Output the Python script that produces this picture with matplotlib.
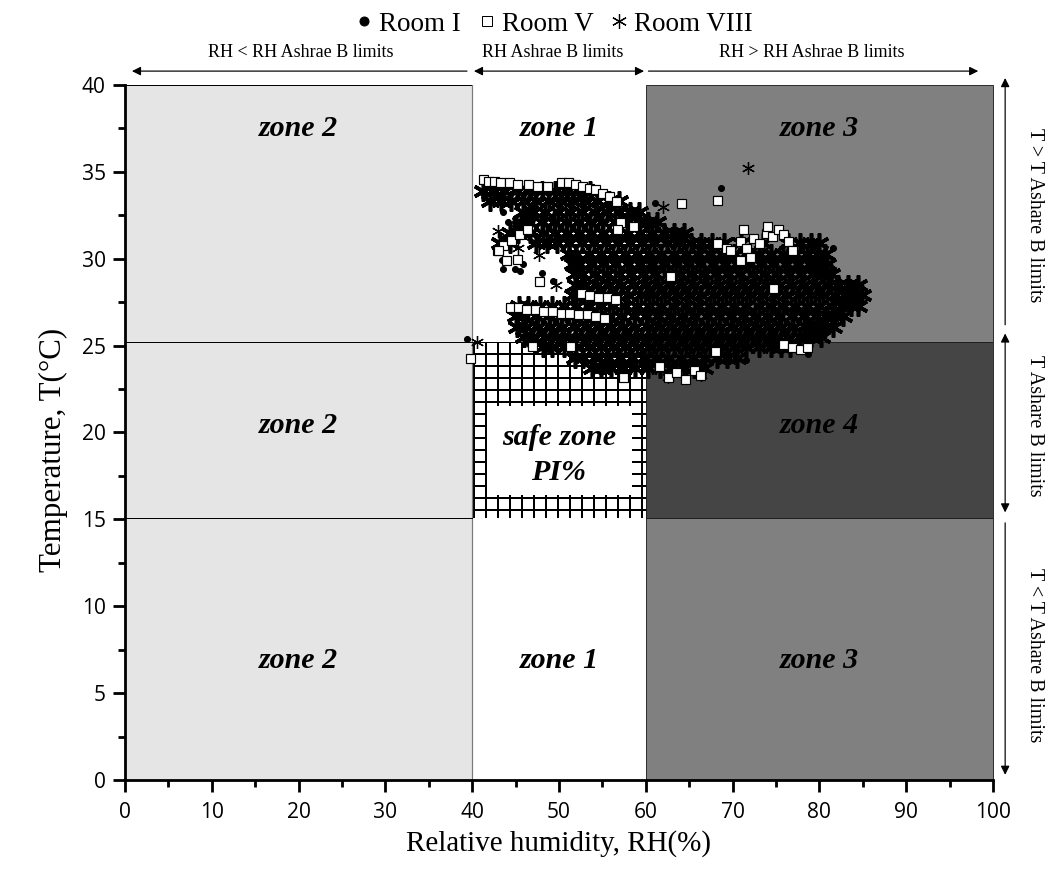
import matplotlib
matplotlib.use('Agg')
import matplotlib.pyplot as plt
from matplotlib.patches import Rectangle
from matplotlib.lines import Line2D

plt.rcParams['font.family'] = 'Open Sans'
SERIF = 'Liberation Serif'

# ASHRAE B limits
rh_lo, rh_hi = 40, 60
t_lo, t_hi = 15.1, 25.2
rh_max, t_max = 100, 40

# Room VIII (asterisks) - read row by row off the cloud
room8_t = [33.9, 33.3, 32.7, 32.1, 31.5, 30.9, 30.3, 29.7, 29.1, 28.5,
           27.9, 27.3, 26.7, 26.1, 25.5, 24.9, 24.3, 23.7]
room8_rh = [
    [41.2, 42.5, 43.7, 45.2, 46.6, 48.0, 49.5, 50.9, 52.3, 53.6],
    [42.0, 43.3, 44.5, 46.0, 47.4, 48.8, 50.2, 51.6, 53.0, 54.4, 55.8, 56.9],
    [45.8, 47.0, 48.4, 49.9, 51.3, 52.7, 54.1, 55.5, 56.9, 58.2, 59.2],
    [45.6, 46.6, 48.0, 49.4, 50.8, 52.2, 53.6, 55.0, 56.4, 57.8, 59.2, 60.3, 61.3],
    [44.3, 45.3, 46.7, 48.1, 49.5, 50.9, 52.3, 53.7, 55.1, 56.5, 57.9, 59.3, 60.7,
     62.1, 63.3, 64.4],
    [43.2, 44.4, 47.4, 48.6, 49.8, 51.2, 52.6, 54.0, 55.4, 56.8, 58.2, 59.6, 61.0,
     62.4, 63.8, 65.2, 66.4, 67.6, 69.0, 71.0, 73.5, 76.4, 77.8, 79.0, 80.0],
    [51.2, 52.0, 53.4, 54.8, 56.2, 57.6, 59.0, 60.4, 61.8, 63.2, 64.6, 66.0,
     67.4, 68.8, 70.2, 71.6, 73.0, 74.4, 75.8, 77.2, 78.6, 79.8, 80.6],
    [51.6, 52.3, 53.7, 55.1, 56.5, 57.9, 59.3, 60.7, 62.1, 63.5, 64.9, 66.3, 67.7,
     69.1, 70.5, 71.9, 73.3, 74.7, 76.1, 77.5, 78.9, 80.0, 80.9],
    [51.8, 52.7, 54.1, 55.5, 56.9, 58.3, 59.7, 61.1, 62.5, 63.9, 65.3, 66.7, 68.1,
     69.5, 70.9, 72.3, 73.7, 75.1, 76.5, 77.9, 79.3, 80.5, 81.3],
    [52.0, 53.0, 54.4, 55.8, 57.2, 58.6, 60.0, 61.4, 62.8, 64.2, 65.6, 67.0, 68.4,
     69.8, 71.2, 72.6, 74.0, 75.4, 76.8, 78.2, 79.6, 81.0, 82.2, 83.3, 84.4],
    [51.6, 52.4, 53.8, 55.2, 56.6, 58.0, 59.4, 60.8, 62.2, 63.6, 65.0, 66.4, 67.8,
     69.2, 70.6, 72.0, 73.4, 74.8, 76.2, 77.6, 79.0, 80.4, 81.8, 83.0, 84.0, 84.9],
    [45.4, 46.4, 47.8, 49.2, 50.6, 52.0, 53.4, 54.8, 56.2, 57.6, 59.0, 60.4, 61.8,
     63.2, 64.6, 66.0, 67.4, 68.8, 70.2, 71.6, 73.0, 74.4, 75.8, 77.2, 78.6, 80.0,
     81.4, 82.6, 83.6, 84.5],
    [45.0, 46.0, 47.4, 48.8, 50.2, 51.6, 53.0, 54.4, 55.8, 57.2, 58.6, 60.0, 61.4,
     62.8, 64.2, 65.6, 67.0, 68.4, 69.8, 71.2, 72.6, 74.0, 75.4, 76.8, 78.2, 79.6,
     80.8, 81.8, 82.7],
    [45.2, 46.2, 47.6, 49.0, 50.4, 51.8, 53.2, 54.6, 56.0, 57.4, 58.8, 60.2, 61.6,
     63.0, 64.4, 65.8, 67.2, 68.6, 70.0, 71.4, 72.8, 74.2, 75.6, 77.0, 78.4, 79.6,
     80.7, 81.6],
    [46.0, 47.0, 48.4, 49.8, 51.2, 52.6, 54.0, 55.4, 56.8, 58.2, 59.6, 61.0, 62.4,
     63.8, 65.2, 66.6, 68.0, 69.4, 70.8, 72.2, 73.6, 75.0, 76.4, 77.8, 79.0, 80.2],
    [48.2, 49.2, 50.6, 52.0, 53.4, 54.8, 56.2, 57.6, 59.0, 60.4, 61.8, 63.2, 64.6,
     66.0, 67.4, 68.8, 70.2, 71.6, 73.0, 74.4, 75.6, 76.6],
    [51.8, 52.8, 54.2, 55.6, 57.0, 58.4, 59.8, 61.2, 62.6, 64.0, 65.4, 66.8, 68.2,
     69.4, 70.5],
    [53.8, 54.8, 56.0, 57.4, 58.8, 60.2, 61.6, 63.0, 64.4, 65.6, 66.7],
]
# stray asterisks
room8_extra_rh = [71.8, 62.0, 40.5, 47.7, 49.7, 62.5, 66.4, 45.3, 43.0]
room8_extra_t = [35.2, 33.0, 25.2, 30.2, 28.5, 23.2, 23.3, 30.6, 31.6]

# Room I (dots)
room1_rh = [39.4, 61.1, 68.7, 43.6, 44.1, 44.9, 43.4, 43.5, 44.9, 45.5, 45.9,
            48.0, 49.3, 53.2, 41.3, 42.2, 55.0, 60.0, 65.0, 70.0, 75.0, 80.0,
            58.0, 50.0, 63.3, 78.7, 81.6, 71.5, 57.5, 46.5]
room1_t = [25.4, 33.2, 34.1, 32.7, 32.1, 32.1, 29.9, 29.4, 29.4, 29.3, 29.7,
           29.2, 28.7, 27.4, 33.8, 33.4, 30.0, 28.0, 27.0, 26.0, 27.0, 28.0,
           32.0, 26.0, 24.0, 24.5, 30.6, 24.2, 23.4, 25.1]

# Room V (open squares)
room5_rh = [41.2, 41.8, 42.5, 43.2, 44.2, 45.2, 46.4, 47.5, 48.6,
            50.2, 51.0, 51.8, 52.6, 53.4, 54.2, 55.0, 55.8, 56.6,
            42.8, 43.6, 44.5, 45.4, 46.3, 57.0, 56.7,
            44.4, 45.3, 46.2, 47.2, 48.2, 49.2, 50.2, 51.2, 52.2, 53.2, 54.2, 55.2,
            52.5, 53.5, 54.5, 55.5, 56.5,
            68.2, 69.2, 69.7, 70.8, 71.5, 72.3, 73.0, 73.8, 74.5, 75.2, 75.8, 76.4,
            76.8, 70.8, 72.0, 71.2, 74.0,
            75.8, 76.8, 77.8, 78.6, 61.5, 62.5, 63.5, 64.5, 65.5, 66.2, 57.4,
            39.7, 46.9, 51.3, 47.7, 43.0, 43.9, 45.2,
            64.0, 68.2, 58.5, 62.8, 68.0, 74.6]
room5_t = [34.6, 34.5, 34.5, 34.4, 34.4, 34.3, 34.3, 34.2, 34.2,
           34.4, 34.4, 34.3, 34.2, 34.1, 34.0, 33.8, 33.6, 33.3,
           30.5, 30.8, 31.1, 31.4, 31.7, 32.1, 31.7,
           27.2, 27.2, 27.1, 27.1, 27.0, 27.0, 26.9, 26.9, 26.8, 26.8, 26.7, 26.6,
           28.0, 27.9, 27.8, 27.8, 27.7,
           30.9, 30.6, 30.5, 31.0, 30.6, 31.2, 30.9, 31.5, 31.3, 31.7, 31.4, 31.0,
           30.5, 29.9, 30.1, 31.7, 31.9,
           25.1, 24.9, 24.8, 24.9, 23.8, 23.2, 23.5, 23.1, 23.6, 23.3, 23.2,
           24.3, 25.0, 25.0, 28.7, 30.5, 29.9, 30.0,
           33.2, 33.4, 31.9, 29.0, 24.7, 28.3]

# flatten room VIII rows
r8_x, r8_y = [], []
for t, row in zip(room8_t, room8_rh):
    r8_x += row
    r8_y += [t] * len(row)

fig = plt.figure(figsize=(1061 / 72, 869 / 72), dpi=72)
ax = fig.add_axes([125 / 1061, 89 / 869, 868 / 1061, 695 / 869])
ax.set_xlim(0, rh_max)
ax.set_ylim(0, t_max)

# zones
ax.add_patch(Rectangle((0, 0), rh_lo, t_max, fc='#e5e5e5', ec='none', zorder=1))
ax.plot([0, rh_lo], [t_max, t_max], color='black', lw=1, zorder=1.5, clip_on=False)
ax.plot([rh_lo, rh_lo], [0, t_max], color='#7a7a7a', lw=1.2, zorder=1.5)
ax.add_patch(Rectangle((rh_hi, 0), rh_max - rh_hi, t_max, fc='#808080',
                       ec='#303030', lw=1, zorder=1, clip_on=False))
ax.add_patch(Rectangle((rh_hi, t_lo), rh_max - rh_hi, t_hi - t_lo, fc='#454545',
                       ec='#202020', lw=1, zorder=1.2))
for t in (t_lo, t_hi):
    ax.plot([0, rh_lo], [t, t], color='black', lw=1, zorder=1.5)

plt.rcParams['hatch.linewidth'] = 2.0
ax.add_patch(Rectangle((rh_lo, t_lo), rh_hi - rh_lo, t_hi - t_lo, fc='white',
                       ec='black', lw=0, hatch='+', zorder=1.3))
ax.add_patch(Rectangle((41.7, 16.4), 16.7, 5.1, fc='white', ec='none', zorder=1.4))

# zone labels
zone_kw = dict(ha='center', va='center', family=SERIF, fontsize=30,
               fontweight='bold', fontstyle='italic', zorder=7)
for lbl, x, y in [('zone 2', 20, 37.5), ('zone 1', 50, 37.5), ('zone 3', 80, 37.5),
                  ('zone 2', 20, 20.4), ('zone 4', 80, 20.4),
                  ('zone 2', 20, 6.9), ('zone 1', 50, 6.9), ('zone 3', 80, 6.9)]:
    ax.text(x, y, lbl, **zone_kw)
ax.text(50, 19.7, 'safe zone', **zone_kw)
ax.text(50, 17.7, 'PI%', **zone_kw)

# data
ax.plot(r8_x, r8_y, ls='none', marker=(6, 2, 0), ms=20, mew=3.6,
        color='black', zorder=3)
ax.plot(room8_extra_rh, room8_extra_t, ls='none', marker=(6, 2, 0), ms=13,
        mew=1.3, color='black', zorder=3)
ax.plot(room1_rh, room1_t, ls='none', marker='o', ms=6, color='black', zorder=4)
ax.plot(room5_rh, room5_t, ls='none', marker='s', ms=9, mfc='white',
        mec='black', mew=1.2, zorder=5)

# axes styling
for s in ('top', 'right'):
    ax.spines[s].set_visible(False)
for s in ('left', 'bottom'):
    ax.spines[s].set_linewidth(2.8)
    ax.spines[s].set_zorder(6)
ax.set_xticks(range(0, 101, 10))
ax.set_xticks(range(5, 100, 10), minor=True)
ax.set_yticks(range(0, 41, 5))
ax.set_yticks([2.5 + 5 * i for i in range(8)], minor=True)
ax.tick_params(which='major', direction='out', length=12, width=2.8, labelsize=21)
ax.tick_params(axis='x', which='major', pad=10)
ax.tick_params(axis='y', which='major', pad=7)
ax.tick_params(which='minor', direction='out', length=7, width=2.8)
ax.set_xlabel('Relative humidity, RH(%)', family=SERIF, fontsize=29, labelpad=7)
ax.set_ylabel('Temperature, T(°C)', family=SERIF, fontsize=31)
ax.yaxis.set_label_coords(-0.066, 0.475)

# limit arrows on top
arr = dict(color='black', lw=1.2, mutation_scale=18, shrinkA=0, shrinkB=0)
ax.annotate('', xy=(0.8, 40.8), xytext=(39.4, 40.8),
            arrowprops=dict(arrowstyle='-|>', **arr), annotation_clip=False)
ax.annotate('', xy=(40.2, 40.8), xytext=(59.8, 40.8),
            arrowprops=dict(arrowstyle='<|-|>', **arr), annotation_clip=False)
ax.annotate('', xy=(98.3, 40.8), xytext=(60.3, 40.8),
            arrowprops=dict(arrowstyle='-|>', **arr), annotation_clip=False)
top_kw = dict(ha='center', va='center', family=SERIF, fontsize=18)
ax.text(20.2, 41.85, 'RH < RH Ashrae B limits', **top_kw)
ax.text(49.3, 41.85, 'RH Ashrae B limits', **top_kw)
ax.text(79.1, 41.85, 'RH > RH Ashrae B limits', **top_kw)

# limit arrows on the right
ax.annotate('', xy=(101.4, 40.4), xytext=(101.4, 26.2),
            arrowprops=dict(arrowstyle='-|>', **arr), annotation_clip=False)
ax.annotate('', xy=(101.4, 25.7), xytext=(101.4, 15.4),
            arrowprops=dict(arrowstyle='<|-|>', **arr), annotation_clip=False)
ax.annotate('', xy=(101.4, 0.3), xytext=(101.4, 14.8),
            arrowprops=dict(arrowstyle='-|>', **arr), annotation_clip=False)
side_kw = dict(ha='center', va='center', family=SERIF, fontsize=20, rotation=270)
ax.text(104.8, 32.5, 'T > T Ashare B limits', **side_kw)
ax.text(104.8, 20.4, 'T Ashare B limits', **side_kw)
ax.text(104.8, 7.2, 'T < T Ashare B limits', **side_kw)

# legend
handles = [Line2D([], [], ls='none', marker='o', ms=9, color='black'),
           Line2D([], [], ls='none', marker='s', ms=10, mfc='white', mec='black', mew=1),
           Line2D([], [], ls='none', marker=(6, 2, 0), ms=15, mew=1.2, color='black')]
fig.legend(handles, ['Room I', 'Room V', 'Room VIII'], loc='upper center',
           bbox_to_anchor=(0.52, 1.005), ncol=3, frameon=False,
           prop={'family': SERIF, 'size': 27}, handletextpad=0.05,
           columnspacing=0.45, handlelength=1.0, borderaxespad=0.2)

fig.savefig('out.png', dpi=72)
